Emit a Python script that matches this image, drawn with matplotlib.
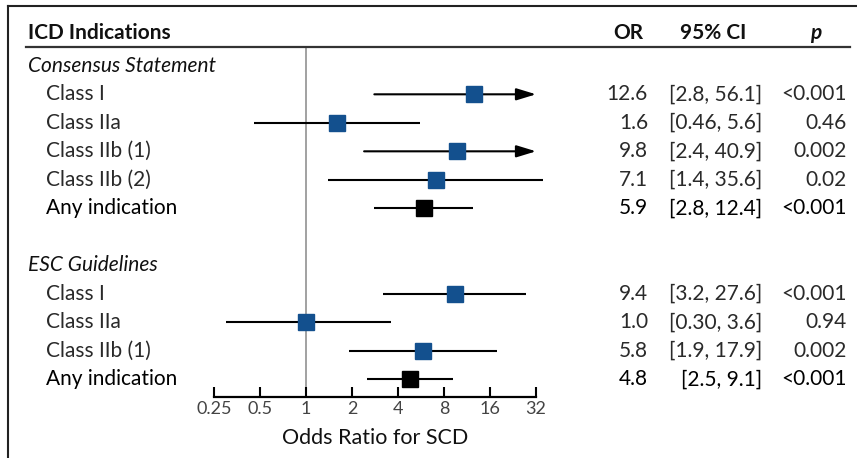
import matplotlib
matplotlib.use('Agg')
import matplotlib.pyplot as plt
import matplotlib.transforms as mtransforms
from matplotlib.lines import Line2D

# data
group_names = ['Consensus Statement', 'ESC Guidelines']
cs_labels = ['Class I', 'Class IIa', 'Class IIb (1)', 'Class IIb (2)', 'Any indication']
cs_or = [12.6, 1.6, 9.8, 7.1, 5.9]
cs_lo = [2.8, 0.46, 2.4, 1.4, 2.8]
cs_hi = [56.1, 5.6, 40.9, 35.6, 12.4]
cs_p = ['<0.001', '0.46', '0.002', '0.02', '<0.001']

esc_labels = ['Class I', 'Class IIa', 'Class IIb (1)', 'Any indication']
esc_or = [9.4, 1.0, 5.8, 4.8]
esc_lo = [3.2, 0.30, 1.9, 2.5]
esc_hi = [27.6, 3.6, 17.9, 9.1]
esc_p = ['<0.001', '0.94', '0.002', '<0.001']

xticks = [0.25, 0.5, 1, 2, 4, 8, 16, 32]
xtick_labels = ['0.25', '0.5', '1', '2', '4', '8', '16', '32']

groups = [
    (group_names[0], cs_labels, cs_or, cs_lo, cs_hi, cs_p),
    (group_names[1], esc_labels, esc_or, esc_lo, esc_hi, esc_p),
]

FONT = 'Lato'
W, H = 857, 458
BLUE = '#13508e'
TXT = '#2a2a2a'

plt.rcParams['font.family'] = [FONT, 'DejaVu Sans']

fig = plt.figure(figsize=(W / 100, H / 100), dpi=100)
fig.patch.set_facecolor('white')


def fx(px):
    return px / W


def fy(py):
    return 1 - py / H


ax = fig.add_axes([fx(214), fy(397), fx(536) - fx(214), fy(47) - fy(397)])
ax.set_xscale('log', base=2)
ax.set_xlim(0.25, 32)
ax.set_ylim(11.62, -0.66)

for s in ['left', 'right', 'top']:
    ax.spines[s].set_visible(False)
ax.spines['bottom'].set_linewidth(1.6)
ax.set_yticks([])
ax.set_xticks(xticks)
ax.set_xticklabels(xtick_labels)
ax.minorticks_off()
ax.tick_params(axis='x', direction='in', length=7, width=1.5, pad=3,
               labelsize=13, labelcolor='#444')
ax.set_xlabel('Odds Ratio for SCD', fontsize=15.5, labelpad=8, color='#111')

ax.axvline(1, color='#9a9a9a', lw=1.3, zorder=0)

tr = mtransforms.blended_transform_factory(fig.transFigure, ax.transData)


def fmt_ci(v):
    return '%.2f' % v if v < 1 else '%.1f' % v


row = 0
for gname, labels, ors, los, his, ps in groups:
    ax.text(fx(28), row, gname, transform=tr, fontsize=15, style='italic',
            va='center', ha='left', color='#111')
    row += 1
    for lab, o, lo, hi, p in zip(labels, ors, los, his, ps):
        summary = lab.startswith('Any')
        col = 'black' if summary else BLUE
        tcol = 'black' if summary else TXT
        if hi > 40:
            ax.annotate('', xy=(32, row), xytext=(lo, row), annotation_clip=False,
                        arrowprops=dict(arrowstyle='-|>,head_length=0.85,head_width=0.26',
                                        color='black', lw=1.5, mutation_scale=14,
                                        shrinkA=0, shrinkB=0))
        else:
            ax.plot([lo, hi], [row, row], color='black', lw=1.5, clip_on=False,
                    solid_capstyle='butt')
        ax.plot([o], [row], marker='s', ms=11.5, color=col, mec=col, zorder=3,
                clip_on=False)
        ax.text(fx(46), row, lab, transform=tr, fontsize=15, va='center',
                ha='left', color=tcol)
        ax.text(fx(648), row, '%.1f' % o, transform=tr, fontsize=15,
                va='center', ha='right', color=tcol)
        ax.text(fx(762), row, '[%s, %s]' % (fmt_ci(lo), fmt_ci(hi)), transform=tr,
                fontsize=15, va='center', ha='right', color=tcol)
        ax.text(fx(847), row, p, transform=tr, fontsize=15, va='center',
                ha='right', color=tcol)
        row += 1
    row += 1

# header row
fig.text(fx(28), fy(33), 'ICD Indications', fontsize=15, weight='bold',
         va='center', ha='left', color='#111')
fig.text(fx(628), fy(33), 'OR', fontsize=15, weight='bold', va='center',
         ha='center', color='#111')
fig.text(fx(713), fy(33), '95% CI', fontsize=15, weight='bold', va='center',
         ha='center', color='#111')
fig.text(fx(816), fy(33), 'p', fontsize=15, weight='bold', style='italic',
         va='center', ha='center', color='#111')

# rule under header and the frame
fig.add_artist(Line2D([fx(26), fx(850)], [fy(47), fy(47)], color='#333', lw=1.6))
fig.add_artist(Line2D([fx(8), fx(8)], [0, fy(6)], color='#222', lw=1.5))
fig.add_artist(Line2D([fx(8), 1], [fy(6), fy(6)], color='#222', lw=1.5))

fig.savefig('out.png', dpi=100)
